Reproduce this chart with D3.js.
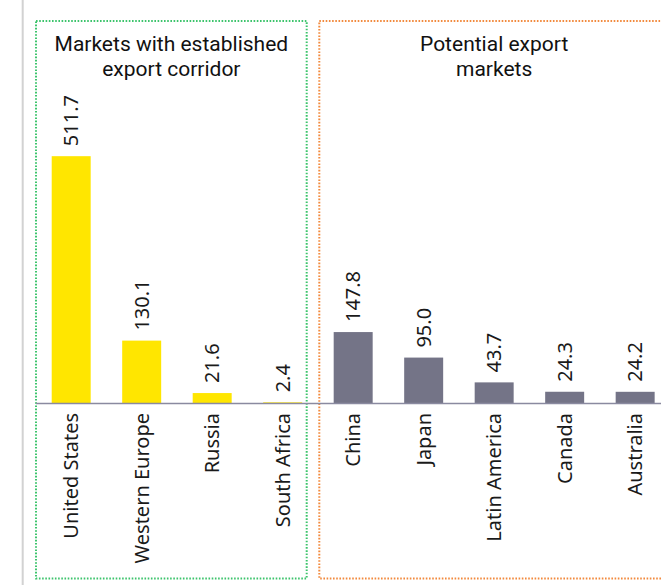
<!DOCTYPE html>
<html>
<head>
<meta charset="utf-8">
<script src="https://cdn.jsdelivr.net/npm/d3@7"></script>
<style>
  body { margin: 0; background: #fff; }
  svg { display: block; }
</style>
</head>
<body>
<div id="chart"></div>
<script>
// Gas demand by market group (values as printed on the bars)
const establishedMarkets = ["United States", "Western Europe", "Russia", "South Africa"];
const establishedValues = [511.7, 130.1, 21.6, 2.4];
const potentialMarkets = ["China", "Japan", "Latin America", "Canada", "Australia"];
const potentialValues = [147.8, 95.0, 43.7, 24.3, 24.2];
const groupTitles = [["Markets with established", "export corridor"], ["Potential export", "markets"]];

const width = 661;
const height = 585;
const baseline = 403.5;

const bars = [
    ...establishedMarkets.map((name, i) => ({ name, value: establishedValues[i], group: 0 })),
    ...potentialMarkets.map((name, i) => ({ name, value: potentialValues[i], group: 1 }))
];

const svg = d3.select("#chart")
    .append("svg")
    .attr("width", width)
    .attr("height", height);

// thin grey rule on the far left
svg.append("line")
    .attr("x1", 22.7).attr("x2", 22.7)
    .attr("y1", 0).attr("y2", height)
    .attr("stroke", "#d2d2d2")
    .attr("stroke-width", 2);

const x = d3.scaleBand()
    .domain(bars.map(d => d.name))
    .range([16.45, 689.9])
    .paddingInner(0.447)
    .paddingOuter(0.5);

const y = d3.scaleLinear()
    .domain([0, 600])
    .range([baseline, baseline - 290]);

const colors = ["#ffe600", "#747487"];
const boxColors = ["#3dc46c", "#f28a3e"];

// dotted group frames
const frames = [
    { x0: 36, x1: 306.7 },
    { x0: 319.3, x1: 669 }
];
frames.forEach((f, i) => {
    svg.append("rect")
        .attr("x", f.x0)
        .attr("y", 21)
        .attr("width", f.x1 - f.x0)
        .attr("height", 557.5)
        .attr("fill", "none")
        .attr("stroke", boxColors[i])
        .attr("stroke-width", 2)
        .attr("stroke-dasharray", "1.6 1.6");

    svg.append("text")
        .attr("y", 50.7)
        .attr("text-anchor", "middle")
        .style("font-family", "Roboto, sans-serif")
        .style("font-weight", 400)
        .style("font-size", "21px")
        .attr("fill", "#111")
        .selectAll("tspan")
        .data(groupTitles[i])
        .join("tspan")
        .attr("x", (f.x0 + f.x1) / 2)
        .attr("dy", (d, j) => j === 0 ? 0 : 25.5)
        .text(d => d);
});

// bars
svg.append("g")
    .selectAll("rect")
    .data(bars)
    .join("rect")
    .attr("x", d => x(d.name))
    .attr("y", d => y(d.value))
    .attr("width", x.bandwidth())
    .attr("height", d => baseline + 0.5 - y(d.value))
    .attr("fill", d => colors[d.group]);

// baseline
svg.append("line")
    .attr("x1", 36).attr("x2", width)
    .attr("y1", baseline).attr("y2", baseline)
    .attr("stroke", "#8a8aa0")
    .attr("stroke-width", 1.5);

// value labels, rotated
svg.append("g")
    .selectAll("text")
    .data(bars)
    .join("text")
    .attr("transform", d => `translate(${x(d.name) + x.bandwidth() / 2},${y(d.value) - 10}) rotate(-90)`)
    .attr("dy", "0.35em")
    .style("font-family", "'Noto Sans', sans-serif")
    .style("font-size", "20px")
    .attr("fill", "#1a1a1a")
    .text(d => d3.format(".1f")(d.value));

// category labels, rotated
svg.append("g")
    .selectAll("text")
    .data(bars)
    .join("text")
    .attr("transform", d => `translate(${x(d.name) + x.bandwidth() / 2},413) rotate(-90)`)
    .attr("dy", "0.35em")
    .attr("text-anchor", "end")
    .style("font-family", "'Noto Sans', sans-serif")
    .style("font-size", "20px")
    .attr("fill", "#1a1a1a")
    .text(d => d.name);
</script>
</body>
</html>
